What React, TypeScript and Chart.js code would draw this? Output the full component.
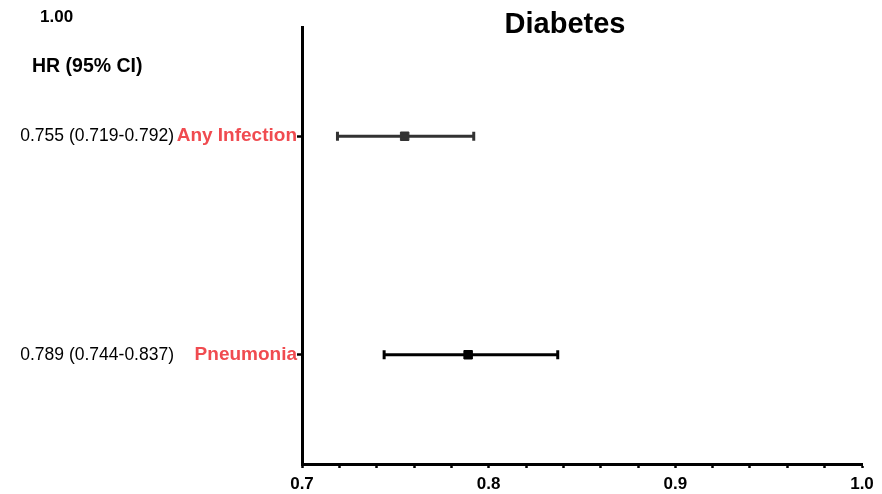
import React, { useEffect, useRef } from 'react';
import { Chart, registerables } from 'chart.js';

Chart.register(...registerables);

// ---- data ----
const chartTitle = 'Diabetes';
const cornerLabel = '1.00';
const headerLabel = 'HR (95% CI)';
const categories = ['Any Infection', 'Pneumonia'];
const hazardRatios = [0.755, 0.789];
const lowerCI = [0.719, 0.744];
const upperCI = [0.792, 0.837];
const hrLabels = ['0.755 (0.719-0.792)', '0.789 (0.744-0.837)'];
const seriesColors = ['#333333', '#000000'];
const xMin = 0.7;
const xMax = 1.0;
const xStep = 0.02;

const FONT = "'Liberation Sans', Arial, Helvetica, sans-serif";
const RED = '#F04B50';

const rowPos = (i: number) => i * 2 + 1;

const textPlugin = {
  id: 'extraText',
  afterDraw(chart: any) {
    const ctx = chart.ctx;
    ctx.save();
    ctx.fillStyle = '#000';
    ctx.textBaseline = 'alphabetic';
    ctx.textAlign = 'center';
    ctx.font = `bold 29px ${FONT}`;
    ctx.fillText(chartTitle, 565, 33);
    ctx.textAlign = 'left';
    ctx.font = `bold 17px ${FONT}`;
    ctx.fillText(cornerLabel, 40, 22);
    ctx.font = `bold 19.5px ${FONT}`;
    ctx.fillText(headerLabel, 32, 72);
    ctx.restore();
  },
};

export default function App() {
  const ref = useRef<HTMLCanvasElement | null>(null);

  useEffect(() => {
    if (!ref.current) return;
    const ciSets = categories.map((c, i) => ({
      label: c + ' CI',
      data: [
        { x: lowerCI[i], y: rowPos(i) },
        { x: upperCI[i], y: rowPos(i) },
      ],
      showLine: true,
      borderColor: seriesColors[i],
      borderWidth: 3,
      pointStyle: 'line',
      rotation: 90,
      pointRadius: 4.5,
      pointBorderWidth: 3,
      pointBorderColor: seriesColors[i],
      pointBackgroundColor: seriesColors[i],
      fill: false,
    }));
    const hrSet = {
      label: 'HR',
      data: hazardRatios.map((v, i) => ({ x: v, y: rowPos(i) })),
      showLine: false,
      pointStyle: 'rect',
      pointRadius: 6,
      pointBorderWidth: 1,
      pointBackgroundColor: seriesColors,
      pointBorderColor: seriesColors,
    };
    const setRowTicks = (s: any) => {
      s.ticks = categories.map((_, i) => ({ value: rowPos(i) }));
    };
    const chart = new Chart(ref.current, {
      type: 'scatter',
      data: { datasets: [...ciSets, hrSet] as any },
      plugins: [textPlugin],
      options: {
        animation: false,
        responsive: false,
        maintainAspectRatio: false,
        layout: { padding: { left: 0, right: 20, top: 27, bottom: 0 } },
        plugins: {
          legend: { display: false },
          tooltip: { enabled: false },
          title: { display: false },
        },
        scales: {
          x: {
            type: 'linear',
            position: 'bottom',
            min: xMin,
            max: xMax,
            afterFit: (s: any) => {
              s.height = 30;
            },
            ticks: {
              stepSize: xStep,
              autoSkip: false,
              maxRotation: 0,
              padding: 6,
              color: '#000',
              font: { family: FONT, size: 17, weight: 'bold' },
              callback: (v: any) => {
                const t = Number(v) * 10;
                return Math.abs(t - Math.round(t)) < 1e-6 ? Number(v).toFixed(1) : '';
              },
            },
            grid: {
              drawOnChartArea: false,
              drawTicks: true,
              tickLength: 4,
              tickWidth: 2.5,
              tickColor: '#000',
            },
            border: { display: true, width: 3, color: '#000' },
          },
          y: {
            type: 'linear',
            position: 'left',
            weight: 0,
            min: 0,
            max: 4,
            reverse: true,
            afterBuildTicks: setRowTicks,
            afterFit: (s: any) => {
              s.width = 127;
            },
            ticks: {
              autoSkip: false,
              padding: 0,
              color: RED,
              font: { family: FONT, size: 19, weight: 'bold' },
              callback: (_v: any, i: number) => categories[i],
            },
            grid: {
              drawOnChartArea: false,
              drawTicks: true,
              tickLength: 5,
              tickWidth: 2.5,
              tickColor: '#000',
            },
            border: { display: true, width: 3, color: '#000' },
          },
          y2: {
            type: 'linear',
            position: 'left',
            weight: 1,
            min: 0,
            max: 4,
            reverse: true,
            afterBuildTicks: setRowTicks,
            afterFit: (s: any) => {
              s.width = 175;
            },
            ticks: {
              autoSkip: false,
              padding: 1,
              color: '#000',
              font: { family: FONT, size: 17.5, weight: 'normal' },
              callback: (_v: any, i: number) => hrLabels[i],
            },
            grid: { display: false, drawTicks: false, tickLength: 0 },
            border: { display: false },
          },
        },
      } as any,
    });
    return () => chart.destroy();
  }, []);

  return (
    <div style={{ position: 'fixed', left: 0, top: 0, width: 882, height: 494, background: '#fff' }}>
      <canvas ref={ref} width={882} height={494} style={{ display: 'block' }} />
    </div>
  );
}
